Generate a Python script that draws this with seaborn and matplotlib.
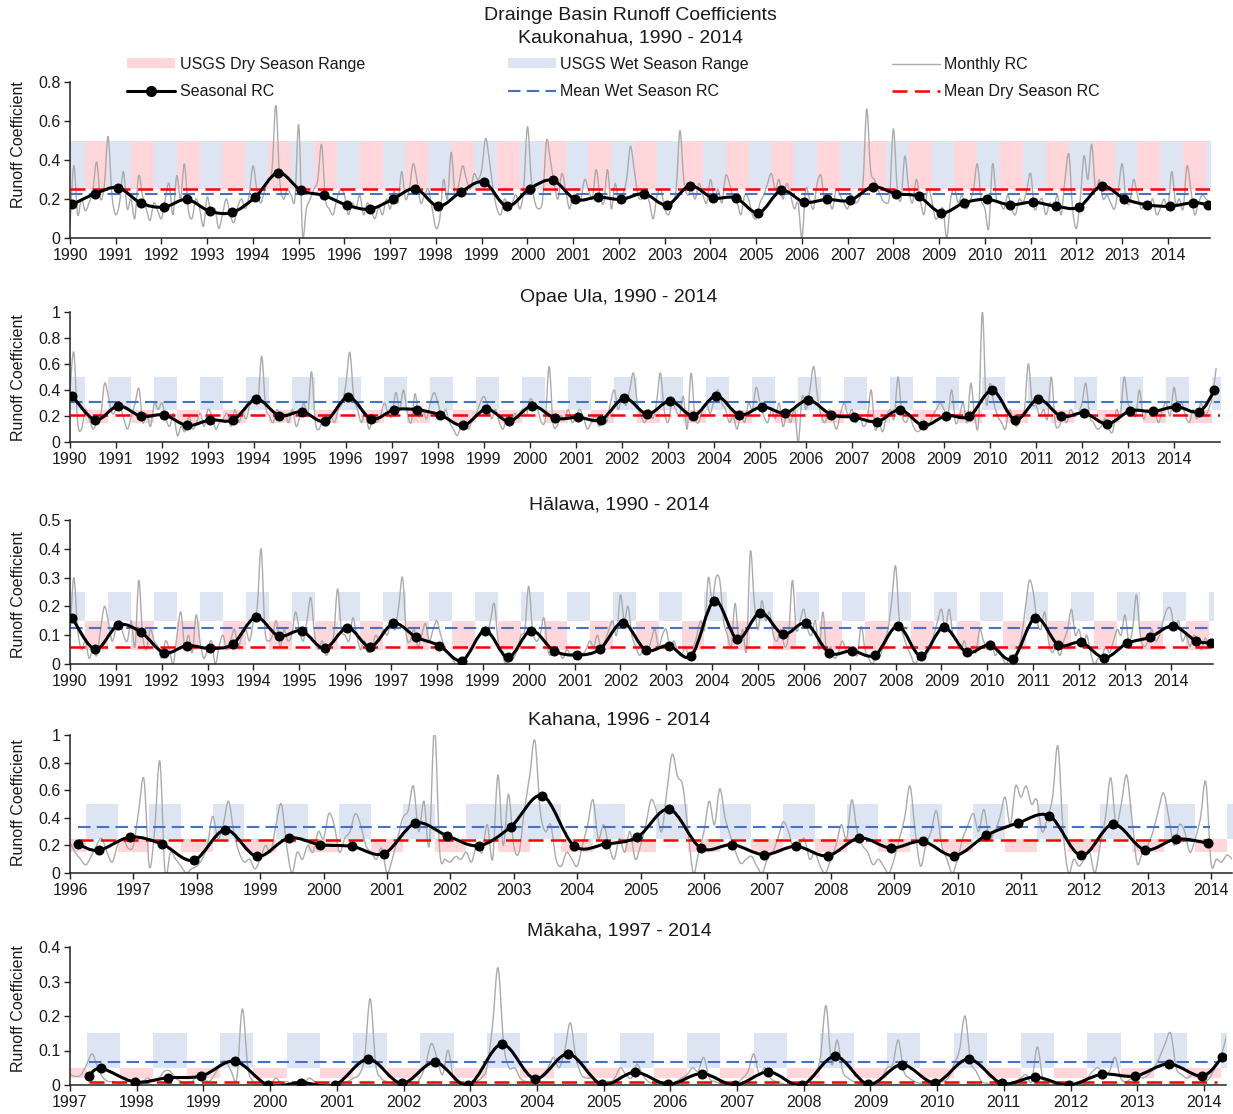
import numpy as np
import pandas as pd
import matplotlib
matplotlib.use("Agg")
import matplotlib.pyplot as plt
from matplotlib.patches import Patch, PathPatch
from matplotlib.path import Path
from matplotlib.lines import Line2D
from matplotlib.ticker import FuncFormatter
import seaborn as sns

sns.set_style("ticks")
plt.rcParams["font.family"] = ["Liberation Sans", "DejaVu Sans"]

# ---------------------------------------------------------------- data
station_names = ["Kaukonahua", "Opae Ula", "Hālawa", "Kahana", "Mākaha"]
record_years = ["1990 - 2014", "1990 - 2014", "1990 - 2014", "1996 - 2014", "1997 - 2014"]

# monthly runoff coefficients, one row per calendar year (Jan..Dec)
kauk_monthly = [
    0.06, 0.37, 0.12, 0.20, 0.14, 0.18, 0.25, 0.39, 0.20, 0.27, 0.52, 0.22,
    0.12, 0.18, 0.34, 0.15, 0.20, 0.10, 0.32, 0.22, 0.15, 0.09, 0.18, 0.14,
    0.10, 0.20, 0.28, 0.12, 0.32, 0.20, 0.38, 0.15, 0.10, 0.20, 0.15, 0.06,
    0.21, 0.12, 0.15, 0.05, 0.12, 0.20, 0.12, 0.08, 0.16, 0.20, 0.15, 0.22,
    0.37, 0.25, 0.18, 0.24, 0.30, 0.35, 0.68, 0.30, 0.20, 0.25, 0.22, 0.20,
    0.58, 0.02, 0.15, 0.20, 0.25, 0.30, 0.48, 0.20, 0.15, 0.12, 0.20, 0.25,
    0.22, 0.12, 0.18, 0.15, 0.22, 0.12, 0.18, 0.14, 0.10, 0.16, 0.12, 0.20,
    0.15, 0.24, 0.18, 0.34, 0.20, 0.25, 0.38, 0.30, 0.18, 0.22, 0.25, 0.15,
    0.05, 0.10, 0.30, 0.20, 0.44, 0.22, 0.28, 0.37, 0.30, 0.25, 0.33, 0.30,
    0.35, 0.51, 0.40, 0.25, 0.15, 0.12, 0.20, 0.15, 0.18, 0.22, 0.15, 0.25,
    0.57, 0.30, 0.18, 0.15, 0.20, 0.50, 0.40, 0.28, 0.20, 0.33, 0.25, 0.15,
    0.22, 0.18, 0.20, 0.30, 0.25, 0.20, 0.35, 0.22, 0.18, 0.35, 0.15, 0.28,
    0.18, 0.22, 0.30, 0.47, 0.35, 0.22, 0.20, 0.25, 0.18, 0.10, 0.22, 0.25,
    0.15, 0.12, 0.18, 0.25, 0.55, 0.30, 0.22, 0.25, 0.20, 0.28, 0.22, 0.18,
    0.30, 0.20, 0.25, 0.18, 0.32, 0.28, 0.20, 0.18, 0.12, 0.22, 0.20, 0.12,
    0.10, 0.18, 0.22, 0.28, 0.33, 0.25, 0.30, 0.20, 0.28, 0.22, 0.15, 0.18,
    0.00, 0.25, 0.20, 0.15, 0.28, 0.32, 0.18, 0.20, 0.15, 0.25, 0.22, 0.18,
    0.15, 0.22, 0.18, 0.20, 0.28, 0.66, 0.35, 0.30, 0.25, 0.20, 0.18, 0.22,
    0.56, 0.25, 0.20, 0.42, 0.25, 0.18, 0.30, 0.20, 0.12, 0.25, 0.20, 0.10,
    0.12, 0.15, 0.00, 0.20, 0.25, 0.18, 0.22, 0.15, 0.18, 0.25, 0.38, 0.20,
    0.15, 0.05, 0.38, 0.20, 0.18, 0.15, 0.22, 0.15, 0.12, 0.20, 0.18, 0.25,
    0.33, 0.15, 0.18, 0.20, 0.12, 0.18, 0.15, 0.22, 0.12, 0.30, 0.43, 0.15,
    0.05, 0.20, 0.42, 0.30, 0.48, 0.25, 0.30, 0.20, 0.22, 0.18, 0.15, 0.25,
    0.38, 0.20, 0.18, 0.30, 0.22, 0.15, 0.18, 0.15, 0.20, 0.12, 0.15, 0.20,
    0.15, 0.34, 0.18, 0.20, 0.15, 0.37, 0.25, 0.12, 0.18, 0.22, 0.20, 0.18,
]
opae_monthly = [
    0.40, 0.69, 0.15, 0.10, 0.25, 0.18, 0.10, 0.15, 0.20, 0.45, 0.35, 0.22,
    0.25, 0.28, 0.18, 0.10, 0.20, 0.30, 0.41, 0.15, 0.22, 0.12, 0.30, 0.25,
    0.30, 0.18, 0.12, 0.22, 0.05, 0.12, 0.08, 0.20, 0.10, 0.15, 0.22, 0.12,
    0.25, 0.20, 0.10, 0.15, 0.18, 0.22, 0.12, 0.25, 0.15, 0.22, 0.18, 0.30,
    0.35, 0.30, 0.66, 0.28, 0.20, 0.15, 0.25, 0.18, 0.22, 0.15, 0.25, 0.12,
    0.20, 0.30, 0.20, 0.54, 0.15, 0.10, 0.18, 0.12, 0.20, 0.15, 0.25, 0.30,
    0.45, 0.69, 0.35, 0.25, 0.15, 0.22, 0.10, 0.18, 0.15, 0.20, 0.30, 0.22,
    0.20, 0.38, 0.25, 0.40, 0.22, 0.15, 0.37, 0.20, 0.25, 0.18, 0.30, 0.38,
    0.30, 0.18, 0.25, 0.15, 0.10, 0.05, 0.12, 0.15, 0.10, 0.18, 0.22, 0.30,
    0.35, 0.28, 0.18, 0.25, 0.15, 0.10, 0.20, 0.15, 0.22, 0.18, 0.25, 0.20,
    0.33, 0.30, 0.25, 0.15, 0.18, 0.58, 0.15, 0.12, 0.20, 0.18, 0.25, 0.15,
    0.20, 0.25, 0.18, 0.10, 0.15, 0.20, 0.12, 0.18, 0.15, 0.30, 0.40, 0.25,
    0.35, 0.28, 0.40, 0.53, 0.30, 0.20, 0.15, 0.25, 0.18, 0.30, 0.53, 0.25,
    0.15, 0.30, 0.25, 0.20, 0.35, 0.10, 0.53, 0.20, 0.15, 0.25, 0.30, 0.22,
    0.32, 0.40, 0.30, 0.25, 0.15, 0.20, 0.10, 0.22, 0.15, 0.30, 0.25, 0.42,
    0.30, 0.20, 0.15, 0.25, 0.18, 0.30, 0.12, 0.22, 0.15, 0.25, 0.00, 0.35,
    0.25, 0.40, 0.58, 0.35, 0.20, 0.15, 0.25, 0.18, 0.10, 0.22, 0.30, 0.20,
    0.25, 0.15, 0.20, 0.12, 0.18, 0.40, 0.10, 0.15, 0.08, 0.20, 0.25, 0.18,
    0.50, 0.22, 0.15, 0.20, 0.12, 0.08, 0.10, 0.15, 0.12, 0.20, 0.25, 0.30,
    0.25, 0.20, 0.40, 0.15, 0.20, 0.30, 0.15, 0.45, 0.20, 0.15, 1.00, 0.30,
    0.45, 0.30, 0.20, 0.15, 0.10, 0.25, 0.18, 0.12, 0.20, 0.25, 0.60, 0.30,
    0.28, 0.20, 0.25, 0.18, 0.50, 0.15, 0.12, 0.20, 0.15, 0.25, 0.20, 0.22,
    0.30, 0.45, 0.20, 0.15, 0.10, 0.12, 0.18, 0.10, 0.08, 0.25, 0.20, 0.50,
    0.30, 0.25, 0.20, 0.40, 0.18, 0.25, 0.20, 0.22, 0.15, 0.25, 0.30, 0.20,
    0.42, 0.25, 0.30, 0.20, 0.15, 0.25, 0.18, 0.30, 0.20, 0.25, 0.35, 0.57,
]
halawa_monthly = [
    0.10, 0.30, 0.12, 0.05, 0.08, 0.02, 0.05, 0.03, 0.12, 0.20, 0.15, 0.08,
    0.12, 0.15, 0.10, 0.08, 0.15, 0.06, 0.29, 0.10, 0.05, 0.12, 0.08, 0.06,
    0.02, 0.08, 0.05, 0.00, 0.10, 0.18, 0.06, 0.10, 0.04, 0.17, 0.08, 0.02,
    0.05, 0.08, 0.00, 0.06, 0.10, 0.05, 0.08, 0.12, 0.06, 0.10, 0.12, 0.08,
    0.15, 0.20, 0.40, 0.12, 0.08, 0.10, 0.15, 0.06, 0.12, 0.08, 0.10, 0.18,
    0.12, 0.08, 0.15, 0.23, 0.10, 0.05, 0.08, 0.03, 0.06, 0.10, 0.26, 0.12,
    0.10, 0.08, 0.16, 0.10, 0.05, 0.08, 0.04, 0.06, 0.10, 0.08, 0.12, 0.10,
    0.15, 0.12, 0.20, 0.30, 0.10, 0.08, 0.12, 0.06, 0.10, 0.14, 0.08, 0.12,
    0.15, 0.10, 0.06, 0.04, 0.02, 0.00, 0.01, 0.02, 0.03, 0.05, 0.08, 0.10,
    0.12, 0.10, 0.15, 0.21, 0.08, 0.04, 0.00, 0.03, 0.02, 0.05, 0.10, 0.12,
    0.27, 0.12, 0.08, 0.10, 0.16, 0.05, 0.03, 0.06, 0.04, 0.02, 0.05, 0.03,
    0.04, 0.02, 0.03, 0.05, 0.08, 0.06, 0.10, 0.05, 0.08, 0.12, 0.15, 0.10,
    0.24, 0.15, 0.20, 0.10, 0.06, 0.03, 0.05, 0.04, 0.08, 0.12, 0.06, 0.10,
    0.12, 0.05, 0.08, 0.04, 0.03, 0.06, 0.02, 0.05, 0.10, 0.15, 0.12, 0.30,
    0.22, 0.30, 0.29, 0.15, 0.10, 0.06, 0.21, 0.08, 0.12, 0.05, 0.39, 0.22,
    0.12, 0.22, 0.15, 0.18, 0.10, 0.08, 0.12, 0.06, 0.10, 0.29, 0.12, 0.15,
    0.19, 0.12, 0.10, 0.15, 0.05, 0.18, 0.03, 0.06, 0.02, 0.04, 0.08, 0.05,
    0.04, 0.06, 0.03, 0.13, 0.05, 0.02, 0.00, 0.04, 0.03, 0.08, 0.12, 0.22,
    0.34, 0.15, 0.10, 0.06, 0.03, 0.00, 0.02, 0.04, 0.03, 0.06, 0.10, 0.15,
    0.19, 0.12, 0.19, 0.10, 0.08, 0.05, 0.08, 0.03, 0.06, 0.04, 0.12, 0.08,
    0.06, 0.08, 0.03, 0.05, 0.02, 0.00, 0.03, 0.02, 0.05, 0.10, 0.20, 0.29,
    0.25, 0.15, 0.12, 0.18, 0.08, 0.04, 0.06, 0.03, 0.08, 0.12, 0.19, 0.10,
    0.12, 0.06, 0.10, 0.04, 0.00, 0.02, 0.03, 0.06, 0.04, 0.08, 0.12, 0.10,
    0.17, 0.08, 0.12, 0.24, 0.10, 0.06, 0.08, 0.12, 0.08, 0.10, 0.15, 0.19,
    0.19, 0.12, 0.15, 0.08, 0.10, 0.06, 0.10, 0.08, 0.05, 0.09, 0.06, 0.09,
]
kahana_monthly = [
    0.22, 0.15, 0.10, 0.06, 0.12, 0.20, 0.25, 0.15, 0.08, 0.20, 0.25, 0.18,
    0.20, 0.45, 0.68, 0.05, 0.30, 0.81, 0.00, 0.15, 0.10, 0.05, 0.00, 0.03,
    0.05, 0.10, 0.20, 0.41, 0.25, 0.35, 0.52, 0.30, 0.15, 0.08, 0.10, 0.03,
    0.10, 0.20, 0.15, 0.35, 0.50, 0.20, 0.00, 0.15, 0.10, 0.20, 0.15, 0.30,
    0.25, 0.43, 0.35, 0.15, 0.25, 0.30, 0.43, 0.35, 0.20, 0.15, 0.10, 0.18,
    0.00, 0.10, 0.25, 0.40, 0.45, 0.63, 0.30, 0.52, 0.20, 1.05, 0.15, 0.10,
    0.08, 0.12, 0.10, 0.15, 0.08, 0.20, 0.15, 0.35, 0.10, 0.71, 0.20, 0.57,
    0.20, 0.15, 0.45, 0.70, 0.96, 0.45, 0.30, 0.35, 0.10, 0.05, 0.15, 0.10,
    0.05, 0.20, 0.35, 0.53, 0.25, 0.35, 0.20, 0.10, 0.25, 0.15, 0.30, 0.10,
    0.20, 0.35, 0.53, 0.45, 0.30, 0.60, 0.86, 0.70, 0.63, 0.30, 0.00, 0.15,
    0.30, 0.52, 0.35, 0.61, 0.40, 0.27, 0.15, 0.07, 0.10, 0.12, 0.05, 0.00,
    0.10, 0.15, 0.25, 0.37, 0.30, 0.17, 0.20, 0.25, 0.10, 0.15, 0.05, 0.00,
    0.10, 0.20, 0.35, 0.25, 0.53, 0.30, 0.20, 0.15, 0.06, 0.10, 0.05, 0.00,
    0.10, 0.25, 0.40, 0.63, 0.30, 0.05, 0.20, 0.30, 0.45, 0.20, 0.10, 0.00,
    0.10, 0.25, 0.35, 0.43, 0.30, 0.46, 0.25, 0.30, 0.40, 0.55, 0.35, 0.63,
    0.55, 0.63, 0.50, 0.53, 0.30, 0.40, 0.55, 0.92, 0.30, 0.00, 0.10, 0.05,
    0.10, 0.15, 0.00, 0.20, 0.40, 0.69, 0.35, 0.50, 0.71, 0.40, 0.07, 0.15,
    0.20, 0.30, 0.45, 0.58, 0.40, 0.20, 0.35, 0.30, 0.15, 0.25, 0.40, 0.66,
    0.07, 0.10, 0.08, 0.13, 0.10,
]
makaha_monthly = [
    0.030, 0.025, 0.030, 0.060, 0.090, 0.050, 0.020, 0.010, 0.010, 0.005, 0.010, 0.010,
    0.005, 0.010, 0.020, 0.010, 0.020, 0.040, 0.040, 0.020, 0.010, 0.005, 0.010, 0.030,
    0.020, 0.010, 0.030, 0.060, 0.070, 0.040, 0.020, 0.220, 0.050, 0.010, 0.000, 0.005,
    0.000, 0.020, 0.005, 0.010, 0.000, 0.010, 0.005, 0.020, 0.010, 0.000, 0.005, 0.000,
    0.000, 0.005, 0.010, 0.020, 0.030, 0.080, 0.250, 0.060, 0.020, 0.010, 0.005, 0.000,
    0.005, 0.010, 0.000, 0.020, 0.060, 0.120, 0.080, 0.030, 0.100, 0.020, 0.005, 0.000,
    0.000, 0.010, 0.020, 0.050, 0.170, 0.340, 0.120, 0.050, 0.050, 0.020, 0.010, 0.005,
    0.010, 0.030, 0.050, 0.080, 0.050, 0.100, 0.180, 0.080, 0.030, 0.020, 0.020, 0.005,
    0.000, 0.005, 0.020, 0.050, 0.030, 0.020, 0.060, 0.030, 0.010, 0.005, 0.000, 0.005,
    0.000, 0.010, 0.020, 0.030, 0.050, 0.040, 0.080, 0.020, 0.010, 0.005, 0.000, 0.000,
    0.005, 0.020, 0.040, 0.090, 0.030, 0.050, 0.020, 0.010, 0.005, 0.000, 0.000, 0.005,
    0.000, 0.010, 0.030, 0.080, 0.230, 0.060, 0.130, 0.040, 0.020, 0.010, 0.005, 0.000,
    0.005, 0.010, 0.020, 0.050, 0.060, 0.130, 0.040, 0.020, 0.010, 0.005, 0.010, 0.000,
    0.005, 0.010, 0.020, 0.060, 0.100, 0.200, 0.070, 0.040, 0.010, 0.005, 0.000, 0.005,
    0.000, 0.005, 0.010, 0.020, 0.030, 0.010, 0.110, 0.020, 0.010, 0.005, 0.000, 0.000,
    0.000, 0.005, 0.010, 0.020, 0.040, 0.050, 0.030, 0.040, 0.080, 0.020, 0.010, 0.020,
    0.030, 0.020, 0.030, 0.050, 0.080, 0.120, 0.150, 0.050, 0.030, 0.020, 0.030, 0.020,
    0.010, 0.020, 0.050, 0.080, 0.140,
]
monthly_start = [1990, 1990, 1990, 1996, 1997]

# seasonal runoff coefficients (wet / dry season means)
kauk_seasonal = [
    0.172, 0.227, 0.258, 0.179, 0.158, 0.198, 0.138, 0.131, 0.210, 0.335,
    0.244, 0.218, 0.169, 0.148, 0.198, 0.253, 0.163, 0.237, 0.287, 0.163,
    0.253, 0.296, 0.198, 0.210, 0.198, 0.227, 0.170, 0.267, 0.206, 0.206,
    0.129, 0.244, 0.184, 0.198, 0.193, 0.262, 0.227, 0.213, 0.129, 0.181,
    0.198, 0.170, 0.184, 0.163, 0.158, 0.267, 0.201, 0.170, 0.163, 0.181,
    0.170,
]
opae_seasonal = [
    0.354, 0.170, 0.278, 0.197, 0.208, 0.127, 0.170, 0.170, 0.329, 0.203,
    0.233, 0.160, 0.347, 0.177, 0.248, 0.248, 0.208, 0.127, 0.253, 0.160,
    0.278, 0.182, 0.190, 0.172, 0.337, 0.215, 0.316, 0.203, 0.354, 0.208,
    0.271, 0.223, 0.322, 0.210, 0.190, 0.157, 0.248, 0.127, 0.203, 0.197,
    0.397, 0.170, 0.329, 0.197, 0.223, 0.139, 0.240, 0.235, 0.271, 0.233,
    0.397,
]
halawa_seasonal = [
    0.159, 0.051, 0.135, 0.110, 0.039, 0.064, 0.054, 0.069, 0.162, 0.097,
    0.115, 0.054, 0.126, 0.060, 0.141, 0.093, 0.064, 0.012, 0.116, 0.023,
    0.116, 0.046, 0.031, 0.051, 0.144, 0.049, 0.064, 0.029, 0.220, 0.087,
    0.178, 0.103, 0.141, 0.039, 0.046, 0.031, 0.132, 0.028, 0.127, 0.040,
    0.066, 0.017, 0.161, 0.066, 0.075, 0.022, 0.072, 0.093, 0.132, 0.080,
    0.074,
]
kahana_seasonal = [
    0.210, 0.164, 0.260, 0.210, 0.092, 0.313, 0.120, 0.253, 0.205, 0.193,
    0.140, 0.361, 0.270, 0.198, 0.333, 0.561, 0.198, 0.210, 0.260, 0.463,
    0.181, 0.205, 0.133, 0.193, 0.125, 0.253, 0.181, 0.229, 0.125, 0.272,
    0.361, 0.414, 0.128, 0.354, 0.169, 0.246, 0.217,
]
makaha_seasonal = [
    0.026, 0.048, 0.009, 0.021, 0.026, 0.069, 0.000, 0.007, 0.000, 0.075,
    0.005, 0.066, 0.000, 0.118, 0.018, 0.090, 0.002, 0.037, 0.002, 0.033,
    0.000, 0.038, 0.000, 0.083, 0.002, 0.059, 0.007, 0.075, 0.005, 0.023,
    0.000, 0.031, 0.026, 0.061, 0.026, 0.080,
]

# dates of the seasonal values (decimal years)
hi_season_dates = [y + o for y in range(1990, 2015) for o in (0.05, 0.55)] + [2014.88]
kahana_season_dates = [1996.12] + [y + o for y in range(1996, 2014) for o in (0.45, 0.95)]
makaha_season_dates = [1997.28] + [y + o for y in range(1997, 2014) for o in (0.47, 0.97)] + [2014.27]

mean_wet = [0.227, 0.304, 0.126, 0.333, 0.067]
mean_dry = [0.253, 0.208, 0.060, 0.236, 0.010]

# USGS ranges (low, high)
usgs_wet = [(0.25, 0.50), (0.25, 0.50), (0.15, 0.25), (0.25, 0.50), (0.05, 0.15)]
usgs_dry = [(0.25, 0.50), (0.15, 0.25), (0.05, 0.15), (0.15, 0.25), (0.02, 0.05)]

# ---------------------------------------------------------------- styling
C_DRY = "#FFD6DA"
C_WET = "#DEE5F2"
C_MONTH = "#ABABAB"
C_WETLINE = "#4472C4"
C_DRYLINE = "#FF0000"
FS = 11.5

W, H = 1233, 1114
fig = plt.figure(figsize=(W / 100, H / 100), dpi=100)

# axes boxes in pixels: left, right, top, bottom
boxes = [(70, 1210, 82, 238), (70, 1220, 312, 442), (70, 1213, 520, 664),
         (70, 1232, 735, 873), (70, 1226, 947, 1085)]
xlims = [(1990, 2014.92), (1990, 2015.0), (1990, 2014.92), (1996, 2014.33), (1997, 2014.33)]
ylims = [(0, 0.8), (0, 1.0), (0, 0.5), (0, 1.0), (0, 0.4)]
ysteps = [0.2, 0.2, 0.1, 0.2, 0.1]
title_y = [None, 297, 505, 720, 931]
ylabel_y = [145, 378, 595, 803, 1009]
mean_span = [None, None, None, (1996.12, 2013.98), (1997.28, 2014.2)]

monthly_all = [kauk_monthly, opae_monthly, halawa_monthly, kahana_monthly, makaha_monthly]
seasonal_all = [kauk_seasonal, opae_seasonal, halawa_seasonal, kahana_seasonal, makaha_seasonal]
season_dates = [hi_season_dates, hi_season_dates, hi_season_dates,
                kahana_season_dates, makaha_season_dates]


def season_windows(i, x0, x1):
    """Wet / dry half-year windows shaded behind each record."""
    if i < 3:
        # wet Nov-Apr, dry May-Oct
        wet = [(y - 1 / 6, y + 1 / 3) for y in range(int(x0), int(x1) + 2)]
        dry = [(y + 1 / 3, y + 5 / 6) for y in range(int(x0), int(x1) + 1)]
    else:
        wet = [(y + 0.25, y + 0.75) for y in range(int(x0), int(x1) + 1)]
        dry = [(y - 0.25, y + 0.25) for y in range(int(x0), int(x1) + 1)]
        if i == 3:
            wet.append((2002.75, 2003.25))
    return wet, dry


def smoothed_path(x, y):
    """Cubic Bezier path through every point (spreadsheet-style smoothed line)."""
    x = np.asarray(x, float)
    y = np.asarray(y, float)
    n = len(x)
    verts = [(x[0], y[0])]
    codes = [Path.MOVETO]
    for k in range(n - 1):
        a = max(k - 1, 0)
        d = min(k + 2, n - 1)
        c1 = (x[k] + (x[k + 1] - x[a]) / 6, y[k] + (y[k + 1] - y[a]) / 6)
        c2 = (x[k + 1] - (x[d] - x[k]) / 6, y[k + 1] - (y[d] - y[k]) / 6)
        verts += [c1, c2, (x[k + 1], y[k + 1])]
        codes += [Path.CURVE4] * 3
    return Path(verts, codes)


for i in range(5):
    l, r, t, b = boxes[i]
    ax = fig.add_axes([l / W, 1 - b / H, (r - l) / W, (b - t) / H])
    x0, x1 = xlims[i]

    wet, dry = season_windows(i, x0, x1)
    for a, e in dry:
        ax.fill_between([a, e], usgs_dry[i][0], usgs_dry[i][1], color=C_DRY, lw=0, zorder=0)
    for a, e in wet:
        ax.fill_between([a, e], usgs_wet[i][0], usgs_wet[i][1], color=C_WET, lw=0, zorder=0)

    m = monthly_all[i]
    mdf = pd.DataFrame({"date": monthly_start[i] + np.arange(len(m)) / 12.0, "rc": m})
    ax.add_patch(PathPatch(smoothed_path(mdf["date"], mdf["rc"]), facecolor="none",
                           edgecolor=C_MONTH, lw=1.0, zorder=1))

    ms = mean_span[i] or (x0, x1)
    ax.plot(ms, [mean_wet[i]] * 2, color=C_WETLINE, lw=1.5, dashes=(6, 3), zorder=2)
    ax.plot(ms, [mean_dry[i]] * 2, color=C_DRYLINE, lw=1.8, dashes=(6, 3), zorder=2)

    sdf = pd.DataFrame({"date": season_dates[i], "rc": seasonal_all[i]})
    ax.add_patch(PathPatch(smoothed_path(sdf["date"], sdf["rc"]), facecolor="none",
                           edgecolor="black", lw=2.2, joinstyle="round", zorder=3))
    sns.scatterplot(data=sdf, x="date", y="rc", ax=ax, color="black", s=52,
                    linewidth=0, zorder=4, legend=False)

    ax.set_xlim(x0, x1)
    ax.set_ylim(*ylims[i])
    ax.set_xticks(range(int(np.ceil(x0)), 2015))
    ax.set_yticks(np.arange(0, ylims[i][1] + 1e-9, ysteps[i]))
    ax.xaxis.set_major_formatter(FuncFormatter(lambda v, _: f"{int(round(v))}"))
    ax.yaxis.set_major_formatter(FuncFormatter(lambda v, _: f"{round(v, 2):g}"))
    ax.tick_params(axis="both", labelsize=FS, direction="out", length=4,
                   width=1, colors="#222222", labelcolor="#1a1a1a", pad=3)
    for s in ("top", "right"):
        ax.spines[s].set_visible(False)
    for s in ("left", "bottom"):
        ax.spines[s].set_color("#222222")
        ax.spines[s].set_linewidth(1.1)
    ax.set_xlabel("")
    ax.set_ylabel("")
    ax.set_facecolor("white")

    fig.text(19 / W, 1 - ylabel_y[i] / H, "Runoff Coefficient", rotation=90,
             ha="center", va="center", fontsize=FS, color="#1a1a1a")
    if title_y[i] is not None:
        fig.text(619 / W, 1 - title_y[i] / H,
                 f"{station_names[i]}, {record_years[i]}",
                 ha="center", va="center", fontsize=14, color="#1a1a1a")

fig.text(630 / W, 1 - 15 / H, "Drainge Basin Runoff Coefficients",
         ha="center", va="center", fontsize=14, color="#1a1a1a")
fig.text(630 / W, 1 - 38 / H, f"{station_names[0]}, {record_years[0]}",
         ha="center", va="center", fontsize=14, color="#1a1a1a")

handles = [
    Patch(facecolor=C_DRY, edgecolor="none", label="USGS Dry Season Range"),
    Line2D([], [], color="black", lw=2.2, marker="o", markersize=7, label="Seasonal RC"),
    Patch(facecolor=C_WET, edgecolor="none", label="USGS Wet Season Range"),
    Line2D([], [], color=C_WETLINE, lw=1.5, dashes=(6, 3), label="Mean Wet Season RC"),
    Line2D([], [], color=C_MONTH, lw=1.0, label="Monthly RC"),
    Line2D([], [], color=C_DRYLINE, lw=1.8, dashes=(6, 3), label="Mean Dry Season RC"),
]
fig.legend(handles=handles, ncol=3, loc="upper left", mode="expand",
           bbox_to_anchor=(127 / W, 1 - 57 / H, (1100 - 127) / W, 0),
           frameon=False, fontsize=FS, handlelength=3.0, handleheight=0.6,
           handletextpad=0.3, labelspacing=0.75, borderpad=0, borderaxespad=0,
           labelcolor="#1a1a1a")

fig.savefig("out.png", dpi=100)
